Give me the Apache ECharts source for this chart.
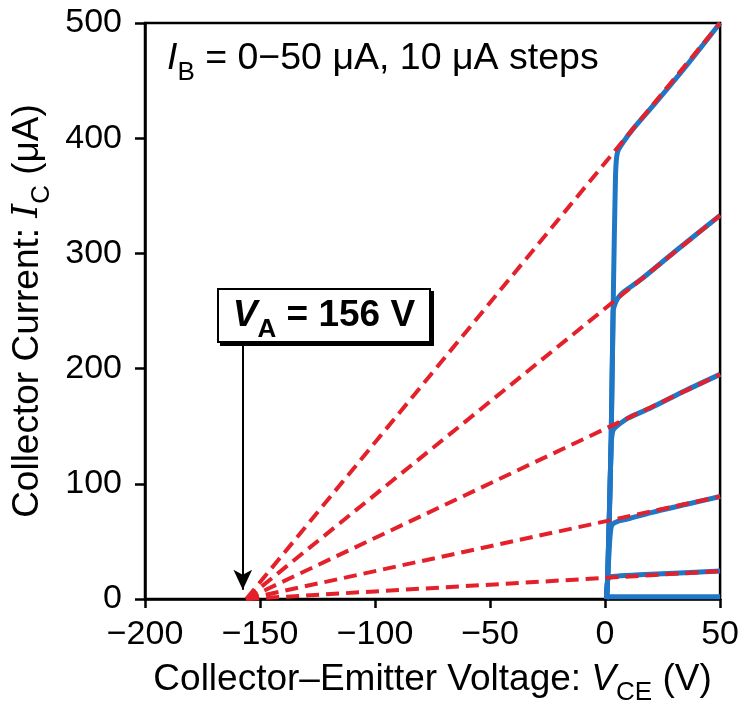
<!DOCTYPE html>
<html>
<head>
<meta charset="utf-8">
<script src="https://cdn.jsdelivr.net/npm/echarts@6/dist/echarts.min.js"></script>
<style>html,body{margin:0;padding:0;background:#fff}#c{width:742px;height:711px}</style>
</head>
<body>
<div id="c"></div>
<script>
// ---- data ----
const xTicks = [-200, -150, -100, -50, 0, 50];
const yTicks = [0, 100, 200, 300, 400, 500];
const V_IB0 = [0.6, 50];
const I_IB0 = [2, 2];
const V_IB10 = [0.6, 1.1, 1.6, 5, 15, 30, 50];
const I_IB10 = [0, 16, 18.8, 19.8, 21, 22.4, 24.2];
const V_IB20 = [0.6, 1.1, 2.0, 2.6, 3.3, 5, 10, 20, 35, 50];
const I_IB20 = [0, 17, 50, 62, 65, 67, 69.5, 75, 82, 89];
const V_IB30 = [0.6, 1.1, 2.6, 3.0, 3.6, 5, 10, 20, 35, 50];
const I_IB30 = [0, 17, 133, 142, 147, 150, 157, 166, 181, 195];
const V_IB40 = [0.6, 1.1, 2.6, 3.5, 4.3, 5.5, 7.7, 16, 30, 50];
const I_IB40 = [0, 17, 133, 250, 256, 261, 266, 278, 301, 333];
const V_IB50 = [0.6, 1.1, 2.6, 3.7, 4.5, 4.9, 5.6, 7.7, 12, 22, 35, 50];
const I_IB50 = [0, 17, 133, 277, 364, 381, 389, 396, 407.6, 430.8, 462, 500];
const fitEndV = 50;
const fitEndI = [24.2, 89, 195, 333, 500];
const earlyVoltage = -156;
const arrowTopI = 223;
const arrowTipI = 8;
const arrowV = -157.5;

const curves = [[V_IB0, I_IB0], [V_IB10, I_IB10], [V_IB20, I_IB20], [V_IB30, I_IB30], [V_IB40, I_IB40], [V_IB50, I_IB50]];
const BLUE = '#1f77c6', RED = '#e4202a';
const FONT = 'Liberation Sans';

const series = [];
curves.forEach((c) => {
  series.push({
    type: 'line', data: c[0].map((v, i) => [v, c[1][i]]), showSymbol: false, symbol: 'none',
    smooth: 0.25, lineStyle: { color: BLUE, width: 5 }, z: 2, silent: true
  });
});
fitEndI.forEach((e) => {
  series.push({
    type: 'line', data: [[earlyVoltage, 0], [fitEndV, e]], symbol: 'none',
    lineStyle: { color: RED, width: 4, type: [13, 7] }, z: 3, silent: true
  });
});
// arrow
series.push({
  type: 'line', data: [], symbol: 'none',
  markLine: {
    silent: true, symbol: ['none', 'arrow'], symbolSize: [14, 20],
    label: { show: false },
    lineStyle: { color: '#000', width: 2, type: 'solid' },
    data: [[{ coord: [arrowV, arrowTopI] }, { coord: [arrowV, arrowTipI] }]]
  }
});

const chart = echarts.init(document.getElementById('c'));
chart.setOption({
  animation: false,
  backgroundColor: '#fff',
  grid: { left: 145, right: 21, top: 23, bottom: 111.5, show: true, borderColor: '#000', borderWidth: 2.5 },
  xAxis: {
    type: 'value', min: -200, max: 50, interval: 50,
    axisLine: { show: true, onZero: false, lineStyle: { color: '#000', width: 2.5 } },
    axisTick: { show: true, length: 9, lineStyle: { color: '#000', width: 2.5 } },
    splitLine: { show: false },
    axisLabel: { color: '#000', fontFamily: FONT, fontSize: 34, margin: 19,
      formatter: v => String(v).replace('-', '\u2212') },
    name: '{n|Collector\u2013Emitter Voltage: }{i|V}{s|CE}{n| (V)}',
    nameLocation: 'middle', nameGap: 62,
    nameTextStyle: {
      rich: {
        n: { fontFamily: FONT, fontSize: 37, color: '#000' },
        i: { fontFamily: FONT, fontSize: 37, fontStyle: 'italic', color: '#000' },
        s: { fontFamily: FONT, fontSize: 26, color: '#000', verticalAlign: 'bottom', padding: [0, 0, -8, 0] }
      }
    }
  },
  yAxis: {
    type: 'value', min: 0, max: 500, interval: 100,
    axisLine: { show: true, onZero: false, lineStyle: { color: '#000', width: 2.5 } },
    axisTick: { show: true, length: 10, lineStyle: { color: '#000', width: 2.5 } },
    splitLine: { show: false },
    axisLabel: { color: '#000', fontFamily: FONT, fontSize: 34, margin: 23 },
    name: '{n|Collector Current: }{i|I}{s|C}{n| (\u03bcA)}',
    nameLocation: 'middle', nameGap: 98,
    nameTextStyle: {
      rich: {
        n: { fontFamily: FONT, fontSize: 37, color: '#000' },
        i: { fontFamily: 'DejaVu Serif', fontSize: 35, fontStyle: 'italic', color: '#000' },
        s: { fontFamily: FONT, fontSize: 26, color: '#000', verticalAlign: 'bottom', padding: [0, 0, -8, 0] }
      }
    }
  },
  series: series,
  graphic: [
    {
      type: 'text', left: 167, top: 40, z: 10,
      style: {
        text: '{i|I}{s|B}{n| = 0\u221250 \u03bcA, 10 \u03bcA steps}',
        rich: {
          n: { fontFamily: FONT, fontSize: 37.5, fill: '#000' },
          i: { fontFamily: FONT, fontSize: 37.5, fontStyle: 'italic', fill: '#000' },
          s: { fontFamily: FONT, fontSize: 26, fill: '#000', verticalAlign: 'bottom', padding: [0, 0, -8, 0] }
        }
      }
    },
    {
      type: 'group', left: 217, top: 288, z: 10,
      children: [
        { type: 'rect', shape: { x: 3, y: 3, width: 212, height: 53 },
          style: { fill: '#000', stroke: '#000', lineWidth: 2 } },
        { type: 'rect', shape: { x: 0, y: 0, width: 212, height: 53 },
          style: { fill: '#fff', stroke: '#000', lineWidth: 2 } },
        { type: 'text', x: 106, y: 27,
          style: {
            text: '{i|V}{s|A}{n| = 156 V}', align: 'center', verticalAlign: 'middle',
            rich: {
              n: { fontFamily: FONT, fontSize: 37, fontWeight: 'bold', fill: '#000' },
              i: { fontFamily: FONT, fontSize: 37, fontWeight: 'bold', fontStyle: 'italic', fill: '#000' },
              s: { fontFamily: FONT, fontSize: 26, fontWeight: 'bold', fill: '#000', verticalAlign: 'bottom', padding: [0, 0, -8, 0] }
            }
          } }
      ]
    }
  ]
});
</script>
</body>
</html>
